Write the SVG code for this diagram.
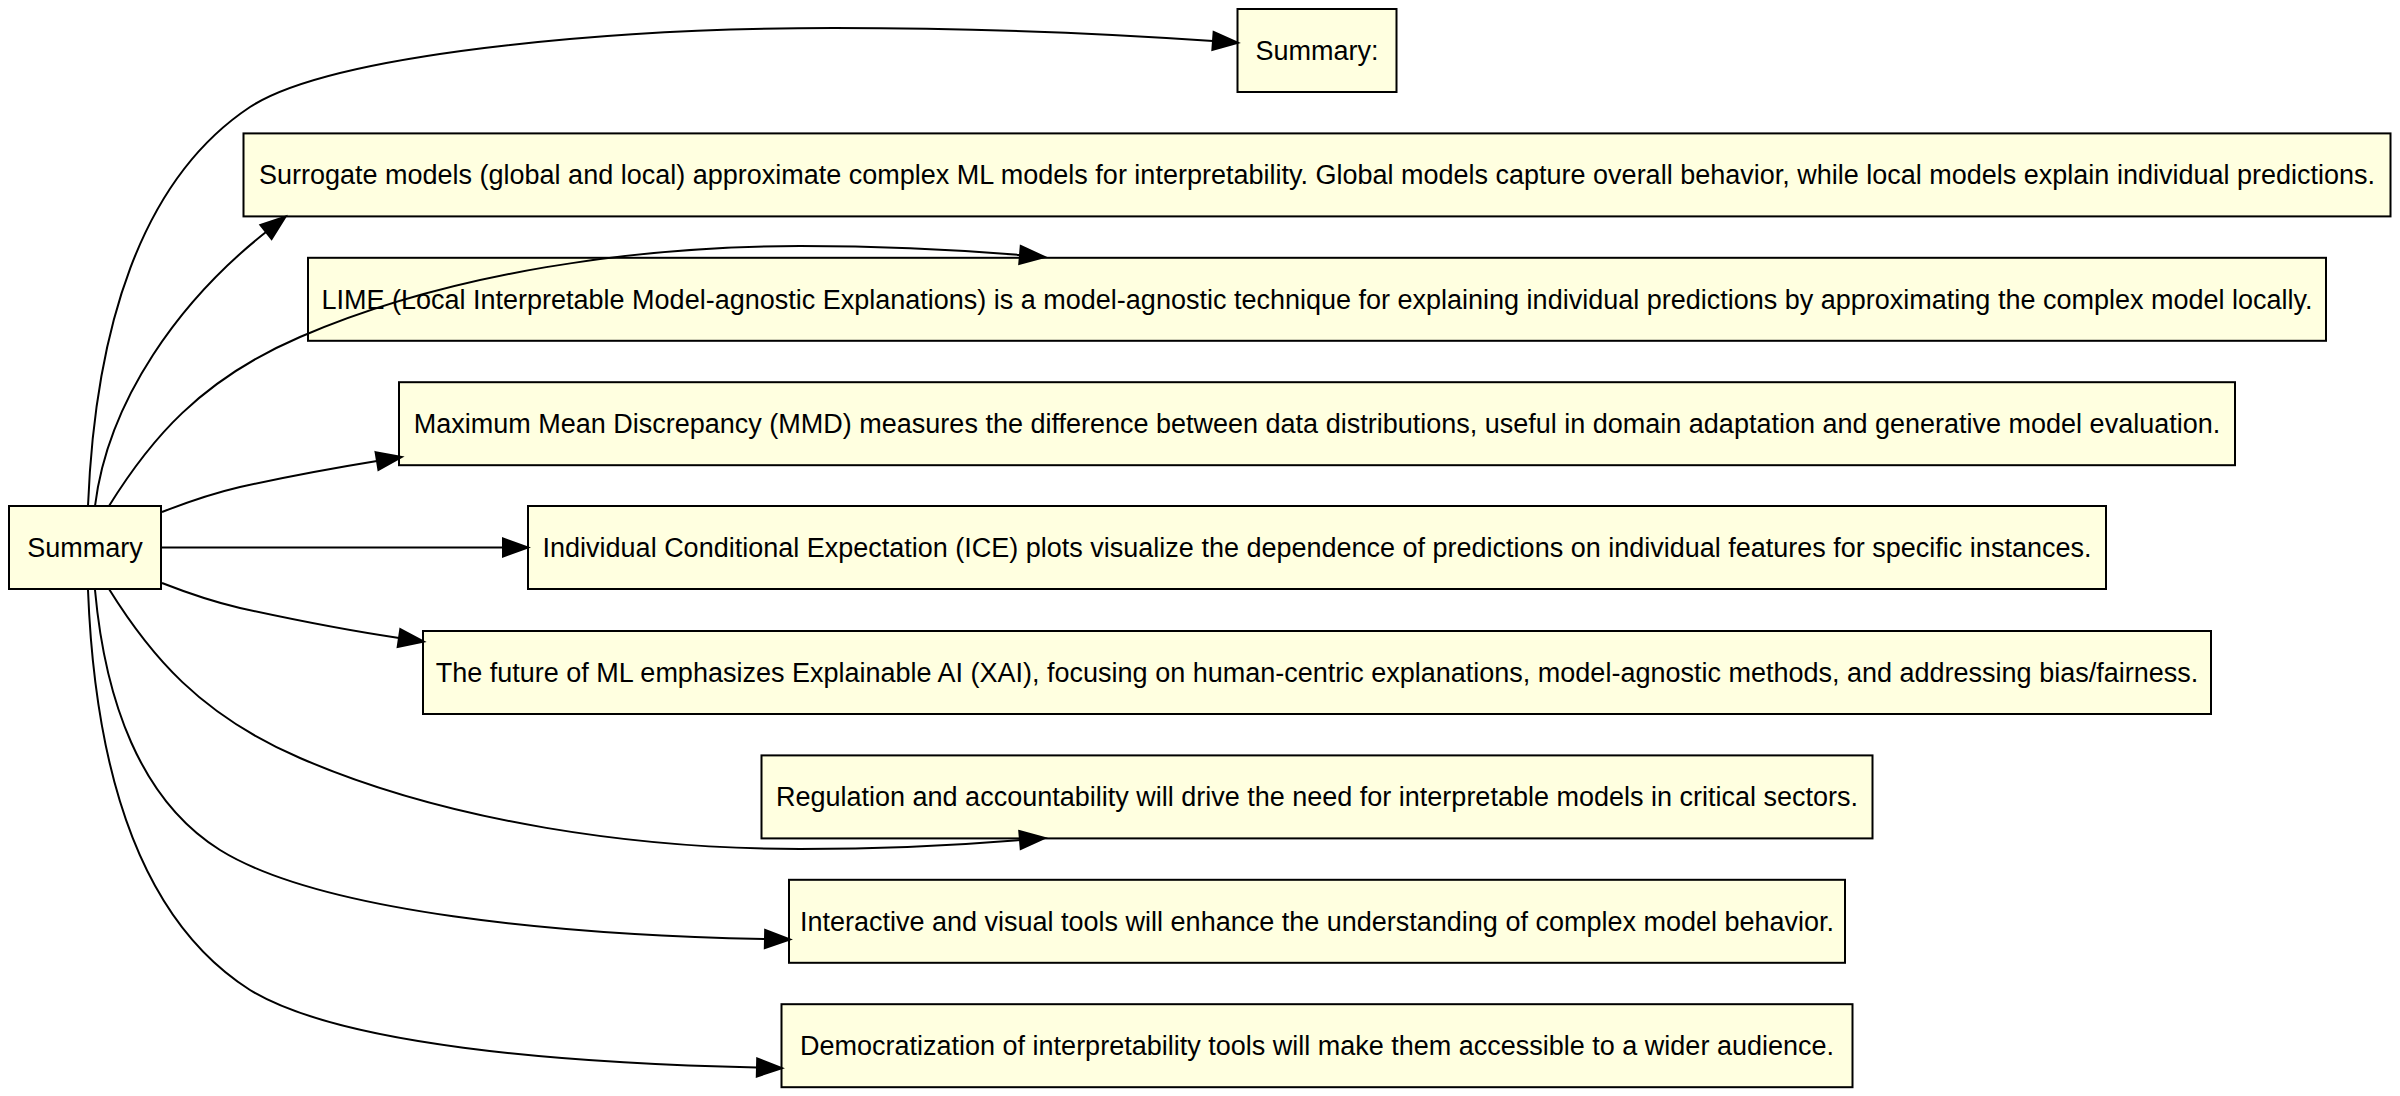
<svg xmlns="http://www.w3.org/2000/svg" width="2400" height="1096" viewBox="0 0 2400 1096">
<style>
.n rect{fill:#ffffe0;stroke:#000;stroke-width:2}
.n text{font-family:"Liberation Sans",Arial,sans-serif;font-size:27px;fill:#000;text-anchor:middle}
.e path{fill:none;stroke:#000;stroke-width:2;marker-end:url(#ah)}
</style>
<defs>
<marker id="ah" markerUnits="userSpaceOnUse" markerWidth="30" markerHeight="24" viewBox="-2 -11 30 22" refX="0" refY="0" orient="auto">
<path d="M0,-9 L25,0 L0,9 Z" fill="#000" stroke="#000" stroke-width="2"/>
</marker>
</defs>
<rect width="2400" height="1096" fill="#fff"/>
<g id="summary" class="n"><rect x="9" y="506" width="152" height="83"/><text x="85" y="557">Summary</text></g>
<g id="summary_colon" class="n"><rect x="1237.5" y="9" width="159" height="83"/><text x="1317" y="60">Summary:</text></g>
<g id="surrogate" class="n"><rect x="243.5" y="133.4" width="2147" height="83"/><text x="1317" y="184.4">Surrogate models (global and local) approximate complex ML models for interpretability. Global models capture overall behavior, while local models explain individual predictions.</text></g>
<g id="lime" class="n"><rect x="308" y="257.8" width="2018" height="83"/><text x="1317" y="308.8">LIME (Local Interpretable Model-agnostic Explanations) is a model-agnostic technique for explaining individual predictions by approximating the complex model locally.</text></g>
<g id="mmd" class="n"><rect x="399" y="382.2" width="1836" height="83"/><text x="1317" y="433.2">Maximum Mean Discrepancy (MMD) measures the difference between data distributions, useful in domain adaptation and generative model evaluation.</text></g>
<g id="ice" class="n"><rect x="528" y="506" width="1578" height="83"/><text x="1317" y="557">Individual Conditional Expectation (ICE) plots visualize the dependence of predictions on individual features for specific instances.</text></g>
<g id="future" class="n"><rect x="423" y="631" width="1788" height="83"/><text x="1317" y="682">The future of ML emphasizes Explainable AI (XAI), focusing on human-centric explanations, model-agnostic methods, and addressing bias/fairness.</text></g>
<g id="regulation" class="n"><rect x="761.5" y="755.4" width="1111" height="83"/><text x="1317" y="806.4">Regulation and accountability will drive the need for interpretable models in critical sectors.</text></g>
<g id="interactive" class="n"><rect x="789" y="879.8" width="1056" height="83"/><text x="1317" y="930.8">Interactive and visual tools will enhance the understanding of complex model behavior.</text></g>
<g id="democratization" class="n"><rect x="781.5" y="1004.2" width="1071" height="83"/><text x="1317" y="1055.2">Democratization of interpretability tools will make them accessible to a wider audience.</text></g>
<g id="edges" class="e">
<path d="M88,506 C95,330 140,180 250,107 C330,55 600,28 834,28 C960,28 1100,33 1213,41"/>
<path d="M95,506 C108,400 180,300 266,232"/>
<path d="M109,506 C150,440 200,380 300,337 C450,272 640,246 800,246 C880,246 960,250 1020,255"/>
<path d="M162,512 C185,503 210,494 240,487 C290,476 340,467 377,461"/>
<path d="M162,547.5 L503,547.5"/>
<path d="M162,583 C185,592 210,601 240,608 C290,619 345,630 399,638"/>
<path d="M109,589 C150,655 200,715 300,758 C450,823 640,849 800,849 C880,849 960,845 1020,840"/>
<path d="M95,590 C105,700 140,800 220,850 C320,912 560,935 765,939"/>
<path d="M88,590 C95,770 140,920 250,990 C340,1045 560,1063 757,1067.5"/>
</g>
</svg>
